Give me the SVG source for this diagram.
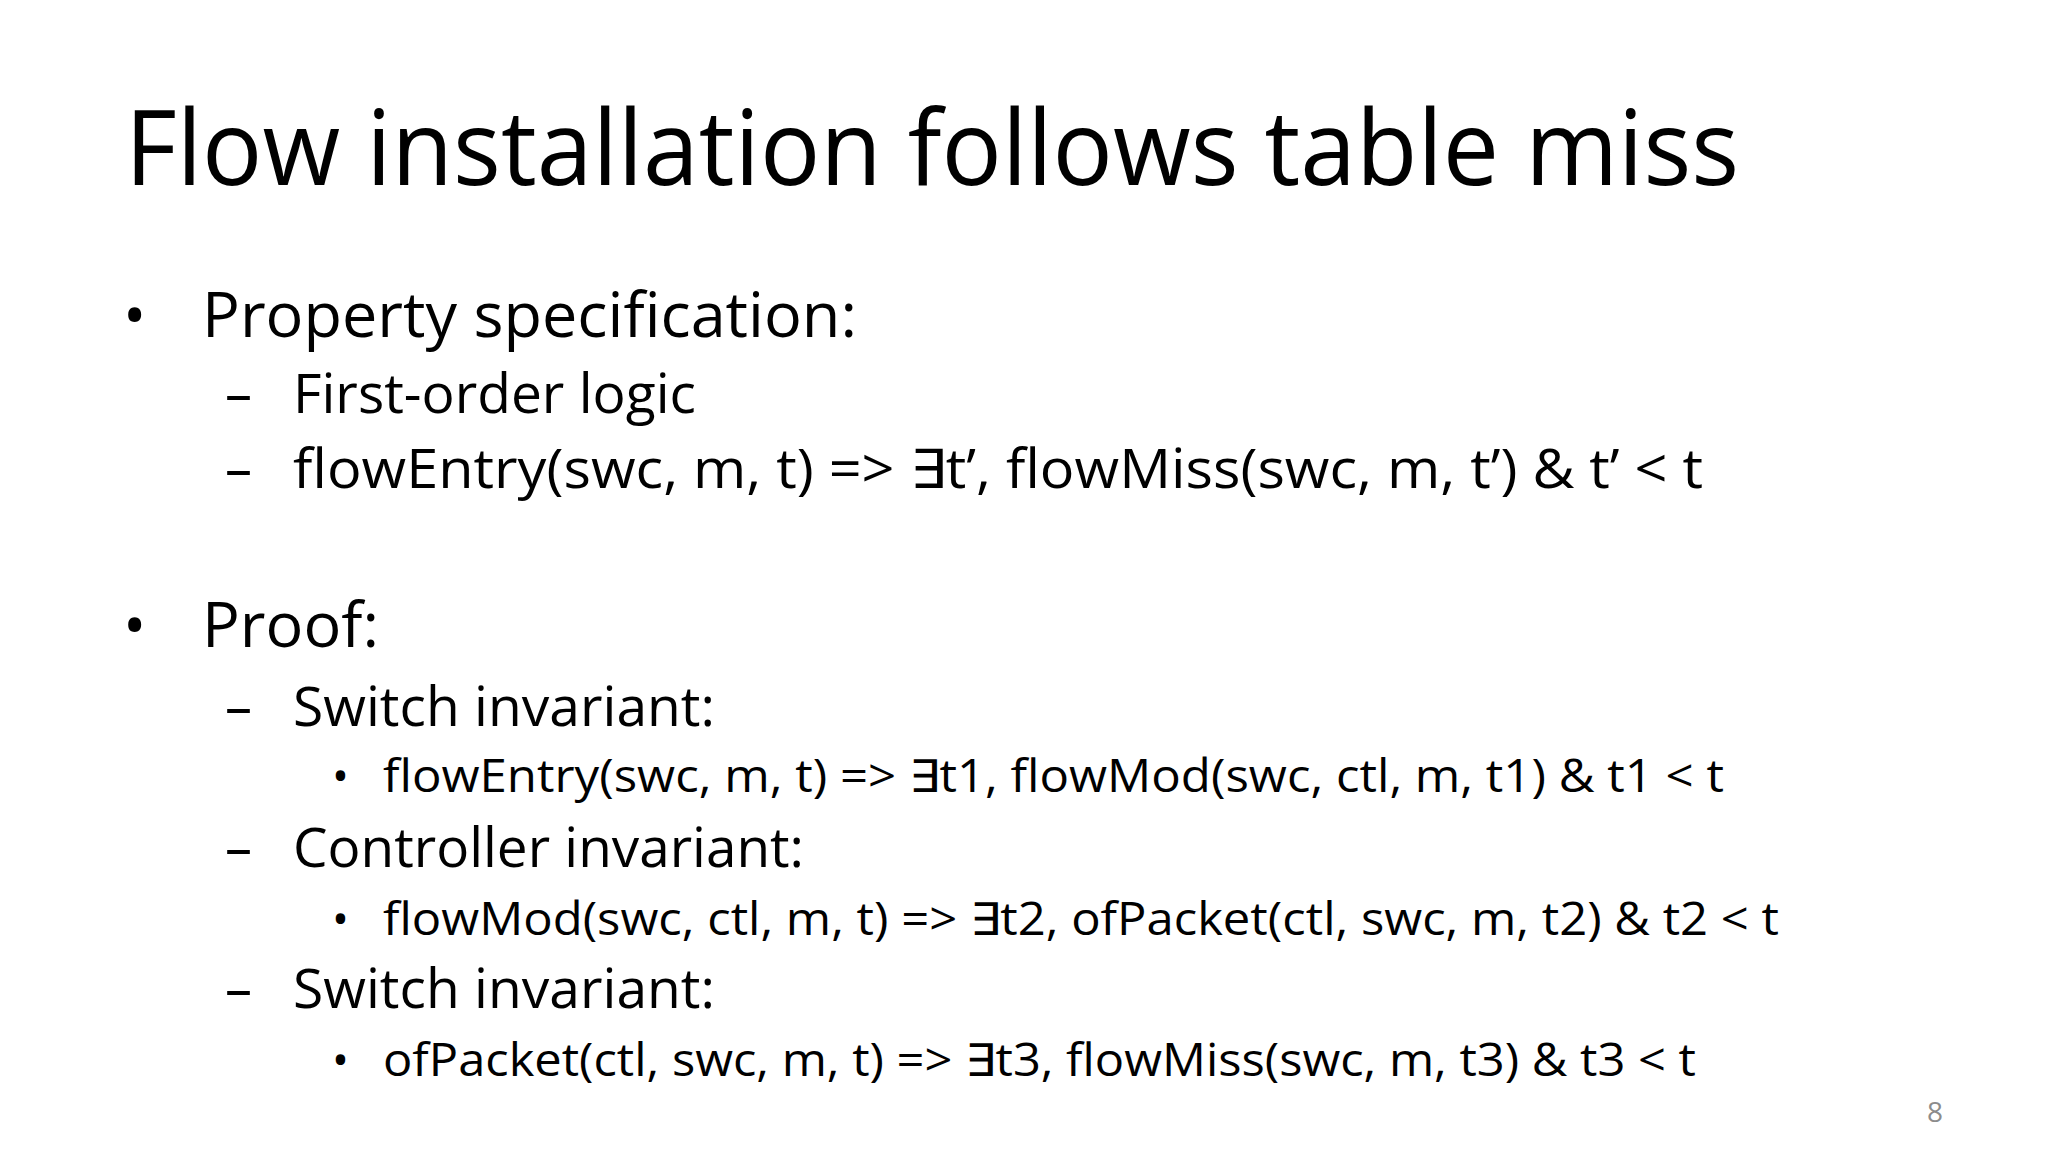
<svg xmlns="http://www.w3.org/2000/svg" width="2048" height="1152" viewBox="0 0 2048 1152">
<style>
text{font-family:"Open Sans","Liberation Sans",sans-serif;fill:#000}
.t{font-size:104px}
.l1{font-size:62px}
.l2{font-size:54px}
.l3{font-size:45px}
.n{font-size:28px;fill:#8c8c8c}
</style>
<rect width="2048" height="1152" fill="#fff"/>
<text class="t" x="125" y="185" textLength="1614" lengthAdjust="spacingAndGlyphs">Flow installation follows table miss</text>
<text class="l1" x="123" y="337">•</text>
<text class="l1" x="202" y="337" textLength="655" lengthAdjust="spacingAndGlyphs">Property specification:</text>
<text class="l2" x="225" y="413">–</text>
<text class="l2" x="293" y="413" textLength="403" lengthAdjust="spacingAndGlyphs">First-order logic</text>
<text class="l2" x="225" y="488">–</text>
<text class="l2" x="293" y="488" textLength="1410" lengthAdjust="spacingAndGlyphs">flowEntry(swc, m, t) =&gt; ∃t’, flowMiss(swc, m, t’) &amp; t’ &lt; t</text>
<text class="l1" x="123" y="647">•</text>
<text class="l1" x="202" y="647" textLength="177" lengthAdjust="spacingAndGlyphs">Proof:</text>
<text class="l2" x="225" y="726">–</text>
<text class="l2" x="293" y="726" textLength="422" lengthAdjust="spacingAndGlyphs">Switch invariant:</text>
<text class="l3" x="332" y="792">•</text>
<text class="l3" x="383" y="792" textLength="1341" lengthAdjust="spacingAndGlyphs">flowEntry(swc, m, t) =&gt; ∃t1, flowMod(swc, ctl, m, t1) &amp; t1 &lt; t</text>
<text class="l2" x="225" y="867">–</text>
<text class="l2" x="293" y="867" textLength="511" lengthAdjust="spacingAndGlyphs">Controller invariant:</text>
<text class="l3" x="332" y="935">•</text>
<text class="l3" x="383" y="935" textLength="1396" lengthAdjust="spacingAndGlyphs">flowMod(swc, ctl, m, t) =&gt; ∃t2, ofPacket(ctl, swc, m, t2) &amp; t2 &lt; t</text>
<text class="l2" x="225" y="1008">–</text>
<text class="l2" x="293" y="1008" textLength="422" lengthAdjust="spacingAndGlyphs">Switch invariant:</text>
<text class="l3" x="332" y="1076">•</text>
<text class="l3" x="383" y="1076" textLength="1313" lengthAdjust="spacingAndGlyphs">ofPacket(ctl, swc, m, t) =&gt; ∃t3, flowMiss(swc, m, t3) &amp; t3 &lt; t</text>
<text class="n" x="1927" y="1122">8</text>
</svg>
